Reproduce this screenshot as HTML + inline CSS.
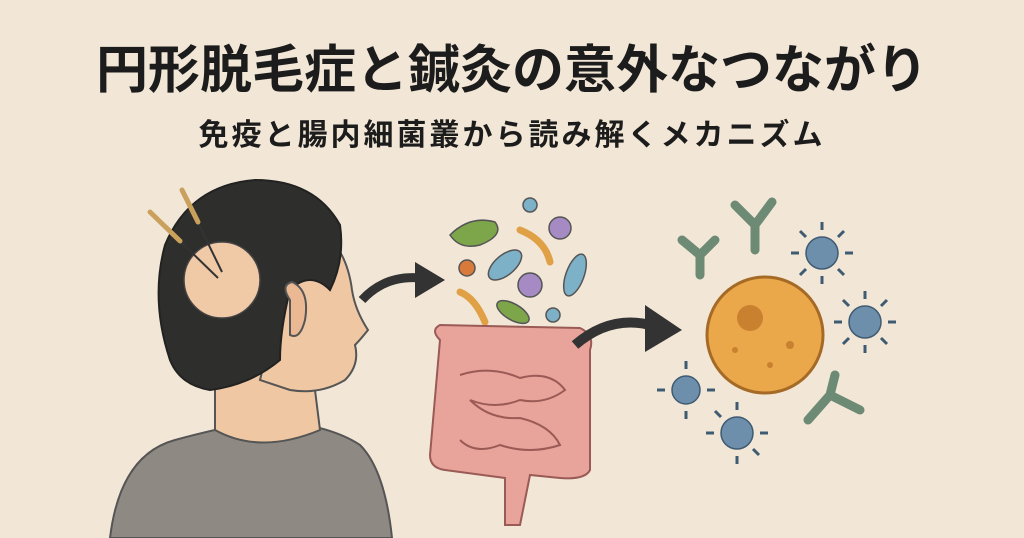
<!DOCTYPE html>
<html><head><meta charset="utf-8"><style>
html,body{margin:0;padding:0;background:#f2e7d7;}
svg{display:block}
</style></head><body>
<svg width="1024" height="538" viewBox="0 0 1024 538" xmlns="http://www.w3.org/2000/svg">
<rect width="1024" height="538" fill="#f2e7d7"/>
<text x="512" y="88" text-anchor="middle" font-family="Liberation Sans, Noto Sans CJK JP, sans-serif" font-weight="bold" font-size="52" fill="#1c1c1c">円形脱毛症と鍼灸の意外なつながり</text>
<text x="512" y="145" text-anchor="middle" font-family="Liberation Sans, Noto Sans CJK JP, sans-serif" font-weight="bold" font-size="30" letter-spacing="3" fill="#1c1c1c">免疫と腸内細菌叢から読み解くメカニズム</text>
<!-- shoulders -->
<path d="M110 538 Q120 455 175 440 Q230 425 270 420 Q330 425 360 445 Q385 470 392 538 Z" fill="#8e8a83" stroke="#555" stroke-width="2"/>
<!-- neck -->
<path d="M215 360 L215 430 Q260 455 320 430 L310 350 Z" fill="#f0c7a3" stroke="#555" stroke-width="2"/>
<!-- face -->
<path d="M300 220 Q345 235 352 290 Q355 310 368 330 Q360 340 355 345 Q360 365 345 380 Q320 395 290 390 L260 380 Z" fill="#f0c7a3" stroke="#555" stroke-width="2"/>
<!-- hair -->
<path d="M170 360 Q150 300 165 245 Q190 185 255 180 Q315 180 340 225 Q345 260 330 290 Q310 270 290 290 Q280 330 280 360 Q250 385 210 390 Q180 385 170 360 Z" fill="#2e2e2c" stroke="#222" stroke-width="2"/>
<!-- ear -->
<path d="M290 300 Q280 285 292 282 Q310 290 305 320 Q300 340 290 335 Z" fill="#eab994" stroke="#555" stroke-width="2"/>
<!-- bald patch -->
<circle cx="222" cy="280" r="38" fill="#f0c9a6" stroke="#444" stroke-width="1.5"/>
<!-- needles -->
<line x1="150" y1="212" x2="218" y2="278" stroke="#333" stroke-width="2"/>
<line x1="150" y1="212" x2="180" y2="241" stroke="#c9a15c" stroke-width="5" stroke-linecap="round"/>
<line x1="182" y1="190" x2="222" y2="272" stroke="#333" stroke-width="2"/>
<line x1="182" y1="190" x2="198" y2="222" stroke="#c9a15c" stroke-width="5" stroke-linecap="round"/>
<!-- arrow 1 -->
<path d="M362 300 Q385 275 420 278" fill="none" stroke="#333" stroke-width="9"/>
<polygon points="415,262 445,280 415,298" fill="#333"/>
<!-- bacteria -->
<g stroke="#555" stroke-width="1.5">
<path d="M450 235 Q470 215 495 222 Q505 235 480 245 Q460 250 450 235Z" fill="#7da64a"/>
<circle cx="530" cy="205" r="7" fill="#7db1c8"/>
<circle cx="560" cy="228" r="11" fill="#a58ac4"/>
<path d="M520 230 Q545 240 550 262" fill="none" stroke="#e0a045" stroke-width="7" stroke-linecap="round"/>
<ellipse cx="505" cy="265" rx="20" ry="10" transform="rotate(-40 505 265)" fill="#7db1c8"/>
<circle cx="467" cy="268" r="8" fill="#d97a3a"/>
<ellipse cx="575" cy="275" rx="9" ry="22" transform="rotate(20 575 275)" fill="#7db1c8"/>
<circle cx="530" cy="285" r="12" fill="#a58ac4"/>
<path d="M460 292 Q475 298 485 322" fill="none" stroke="#e0a045" stroke-width="7" stroke-linecap="round"/>
<ellipse cx="513" cy="312" rx="18" ry="8" transform="rotate(30 513 312)" fill="#7da64a"/>
<circle cx="553" cy="315" r="7" fill="#7db1c8"/>
</g>
<!-- intestine -->
<path d="M440 340 Q430 330 440 325 L580 328 Q595 335 590 350 L590 470 Q585 480 560 478 L530 475 Q525 500 520 525 L505 525 Q505 500 505 478 L445 470 Q430 468 430 455 Z" fill="#e8a39b" stroke="#9a5a55" stroke-width="2"/>
<path d="M460 375 Q490 365 520 378 Q550 370 565 390 Q545 405 520 400 Q495 410 470 400 Q490 420 520 418 Q550 425 560 445 Q530 455 500 445 Q475 455 460 440" fill="none" stroke="#9a5a55" stroke-width="2"/>
<!-- arrow 2 -->
<path d="M575 345 Q610 315 650 325" fill="none" stroke="#333" stroke-width="10"/>
<polygon points="645,305 682,330 645,352" fill="#333"/>
<!-- cell -->
<circle cx="765" cy="335" r="58" fill="#eba84a" stroke="#a56a25" stroke-width="3"/>
<circle cx="750" cy="318" r="13" fill="#c9802f"/>
<circle cx="790" cy="345" r="4" fill="#c9802f"/><circle cx="770" cy="365" r="3" fill="#c9802f"/><circle cx="735" cy="350" r="3" fill="#c9802f"/>
<!-- antibodies -->
<g stroke="#6d8a74" stroke-width="9" stroke-linecap="round" fill="none">
<path d="M755 250 L755 225 L735 205 M755 225 L772 202"/>
<path d="M700 275 L700 255 L682 240 M700 255 L715 240"/>
<path d="M830 395 L808 420 M830 395 L860 410 M830 395 L835 375"/>
</g>
<!-- viruses -->
<g fill="#6d8fab" stroke="#3f5b72" stroke-width="1.5">
<circle cx="822" cy="253" r="16"/><circle cx="865" cy="322" r="16"/><circle cx="686" cy="390" r="14"/><circle cx="737" cy="433" r="16"/>
</g>
<g stroke="#3f5b72" stroke-width="3">
<path d="M822 230v-8M822 276v8M799 253h-8M845 253h8M806 237l-6-6M838 269l6 6M838 237l6-6M806 269l-6 6"/>
<path d="M865 299v-8M865 345v8M842 322h-8M888 322h8M849 306l-6-6M881 338l6 6M881 306l6-6M849 338l-6 6"/>
<path d="M686 369v-8M686 411v8M665 390h-8M707 390h8"/>
<path d="M737 410v-8M737 456v8M714 433h-8M760 433h8M721 417l-6-6M753 449l6 6"/>
</g>
</svg>
</body></html>
